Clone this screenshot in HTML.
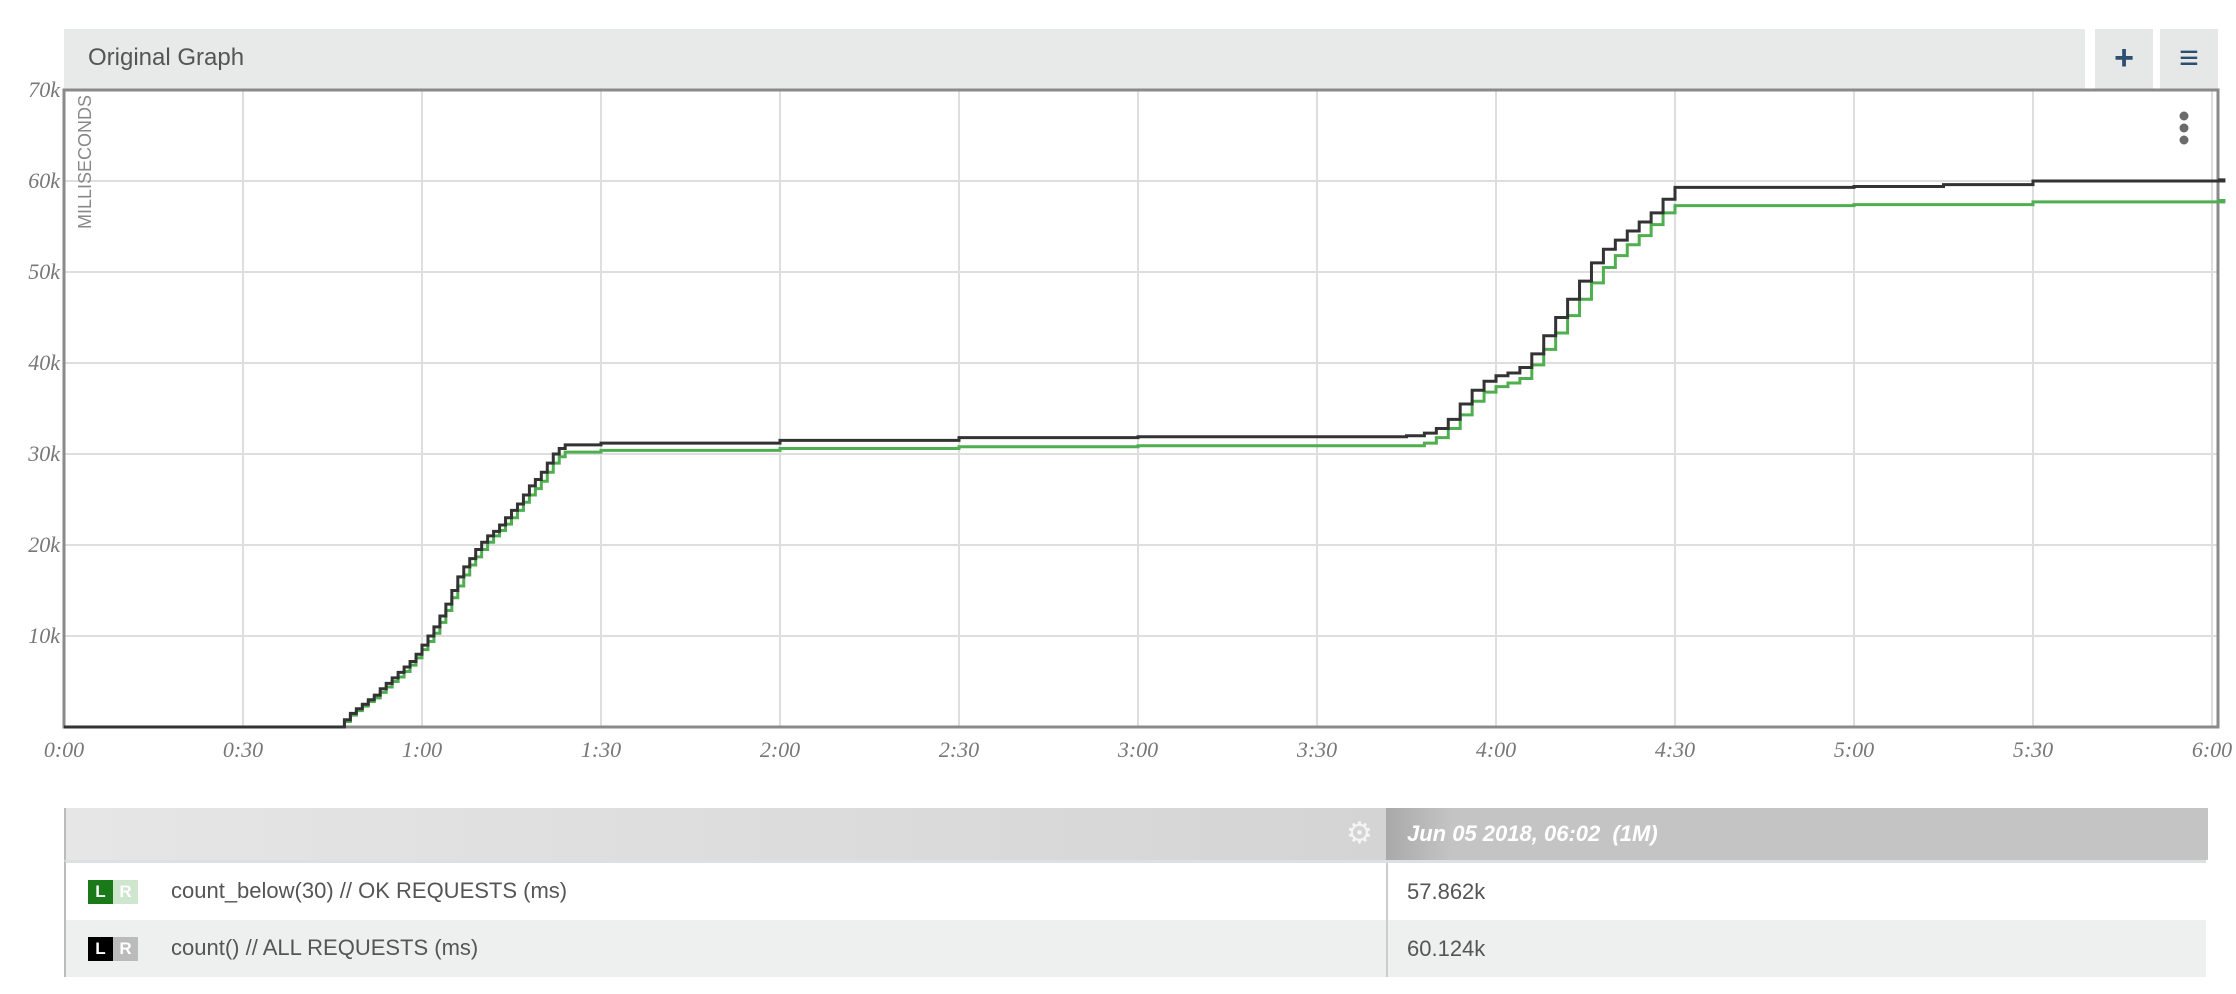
<!DOCTYPE html>
<html><head><meta charset="utf-8">
<style>
body{margin:0;width:2236px;height:994px;background:#fff;font-family:"Liberation Sans",sans-serif;overflow:hidden;position:relative}
.abs{position:absolute}
#hdr{left:64px;top:29px;width:2021px;height:60px;background:#e8e9e9}
#hdr span{position:absolute;left:24px;top:15px;font-size:24px;color:#555}
.btn{top:29px;width:58px;height:60px;background:#e6e7e7;color:#2c4e70;font-size:34px;font-weight:bold;text-align:center;line-height:58px}
#tbl{left:64px;top:808px;width:2142px}
.th{height:52px;background:linear-gradient(90deg,#e6e6e6,#c9c9c9);position:relative;border-left:2px solid #bbb}
.row{height:57px;position:relative;border-left:2px solid #bbb;font-size:22px;color:#555}
.row .lbl{position:absolute;left:105px;top:15px}
.row .val{position:absolute;left:1320px;top:0;border-left:2px solid #ccc;height:57px;padding-left:19px;line-height:57px}
.badge{position:absolute;top:17px;width:25px;height:24px;color:#fff;font-size:17px;text-align:center;line-height:24px;font-weight:bold}
</style></head><body>
<div id="hdr" class="abs"><span>Original Graph</span></div>
<div class="abs btn" style="left:2095px">+</div>
<div class="abs btn" style="left:2160px">≡</div>

<svg class="abs" style="left:0;top:0" width="2236" height="800" id="chart"></svg>

<div id="tbl" class="abs">
 <div class="th">
  <div class="abs" style="left:1280px;top:8px;font-size:30px;color:#f4f4f4">⚙</div>
  <div class="abs" style="left:1320px;top:0;width:822px;height:52px;background:linear-gradient(90deg,#a9a9a9,#c4c4c4 8%,#c4c4c4)"></div>
  <div class="abs" style="left:1341px;top:13px;font-size:22px;color:#fff;font-weight:bold;font-style:italic">Jun 05 2018, 06:02&nbsp; (1M)</div>
 </div>
 <div class="row" style="background:#fff;border-top:3px solid #dde0e0">
  <div class="badge" style="left:22px;background:#1a7a1a">L</div>
  <div class="badge" style="left:47px;background:#cde6cd">R</div>
  <div class="lbl">count_below(30) // OK REQUESTS (ms)</div>
  <div class="val">57.862k</div>
 </div>
 <div class="row" style="background:#eef0ef">
  <div class="badge" style="left:22px;background:#000">L</div>
  <div class="badge" style="left:47px;background:#bbb">R</div>
  <div class="lbl">count() // ALL REQUESTS (ms)</div>
  <div class="val">60.124k</div>
 </div>
</div>

<script>
const allTimes=[0,46,47,48,49,50,51,52,53,54,55,56,57,58,59,60,61,62,63,64,65,66,67,68,69,70,71,72,73,74,75,76,77,78,79,80,81,82,83,84,90,120,150,180,210,225,228,230,232,234,236,238,240,242,244,246,248,250,252,254,256,258,260,262,264,266,268,270,300,315,330,362];
const allValues=[0,0,0.8,1.5,2,2.5,3,3.5,4.2,4.8,5.4,6,6.6,7.2,8,9,10,11,12.2,13.5,15,16.5,17.6,18.5,19.5,20.3,21,21.5,22.2,23,23.8,24.5,25.5,26.5,27.2,28,29,30,30.6,31,31.2,31.5,31.8,31.9,31.9,32,32.3,32.8,33.8,35.5,37,38,38.6,38.9,39.5,41,43,45,47,49,51,52.5,53.5,54.5,55.5,56.5,58,59.3,59.4,59.6,60,60.124];
const okTimes=[0,46,47,48,49,50,51,52,53,54,55,56,57,58,59,60,61,62,63,64,65,66,67,68,69,70,71,72,73,74,75,76,77,78,79,80,81,82,83,84,90,120,150,180,225,228,230,232,234,236,238,240,242,244,246,248,250,252,254,256,258,260,262,264,266,268,270,300,330,362];
const okValues=[0,0,0.6,1.3,1.8,2.3,2.8,3.2,3.8,4.4,5,5.5,6.1,6.8,7.6,8.5,9.4,10.3,11.5,12.8,14.2,15.5,16.7,17.8,18.7,19.5,20.3,21,21.6,22.3,23,23.8,24.7,25.5,26.2,27,28,29,29.7,30.2,30.4,30.6,30.8,30.9,30.9,31.2,31.8,32.8,34.3,35.8,36.8,37.4,37.8,38.3,39.8,41.5,43.3,45.2,47,48.8,50.5,51.8,53,54,55.2,56.5,57.3,57.4,57.7,57.862];
const yTicks=[10,20,30,40,50,60,70];
const yTickLabels=["10k","20k","30k","40k","50k","60k","70k"];
const xTicks=[0,30,60,90,120,150,180,210,240,270,300,330,360];
const xTickLabels=["0:00","0:30","1:00","1:30","2:00","2:30","3:00","3:30","4:00","4:30","5:00","5:30","6:00"];

const L=64,R=2218,T=90,B=727;
const x=t=>L+t*(2148/360);
const y=v=>B-v*(B-T)/70;
const svg=document.getElementById('chart');
const NS='http://www.w3.org/2000/svg';
function mk(tag,attrs){const e=document.createElementNS(NS,tag);for(const k in attrs)e.setAttribute(k,attrs[k]);svg.appendChild(e);return e;}

xTicks.forEach((t,i)=>{
 const g=mk('line',{x1:x(t),x2:x(t),y1:T,y2:B,stroke:'#dedede','stroke-width':2});
 
 
 const lb=mk('text',{x:x(t),y:B+30,'text-anchor':'middle','font-size':22,'font-style':'italic',fill:'#777','font-family':'"Liberation Serif",serif'});
 lb.textContent=xTickLabels[i];
 
 
});
yTicks.forEach((v,i)=>{
 const g=mk('line',{x1:L,x2:R,y1:y(v),y2:y(v),stroke:'#dedede','stroke-width':2});
 
 
 const lb=mk('text',{x:L-4,y:y(v)+7,'text-anchor':'end','font-size':22,'font-style':'italic',fill:'#777','font-family':'"Liberation Serif",serif'});
 lb.textContent=yTickLabels[i];
 
 
});
const fr=mk('rect',{x:L,y:T,width:R-L,height:B-T,fill:'none',stroke:'#8a8a8a','stroke-width':3});


const yt=mk('text',{transform:`translate(${L+27},${T+5}) rotate(-90)`,'text-anchor':'end','font-size':18,fill:'#888'});
yt.textContent='MILLISECONDS';


[0,1,2].forEach(i=>{
 const c=mk('circle',{cx:2184,cy:116+i*12,r:4.5,fill:'#6b6b6b'});
 
 
});
function stepPath(ts,vs){let d=`M${x(ts[0])},${y(vs[0])}`;for(let i=1;i<ts.length;i++){d+=`H${x(ts[i])}V${y(vs[i])}`;}d+=`H${R}`;return d;}
const ok=mk('path',{d:stepPath(okTimes,okValues),fill:'none',stroke:'#4fae4f','stroke-width':3});


const al=mk('path',{d:stepPath(allTimes,allValues),fill:'none',stroke:'#333','stroke-width':3});


</script>
</body></html>
